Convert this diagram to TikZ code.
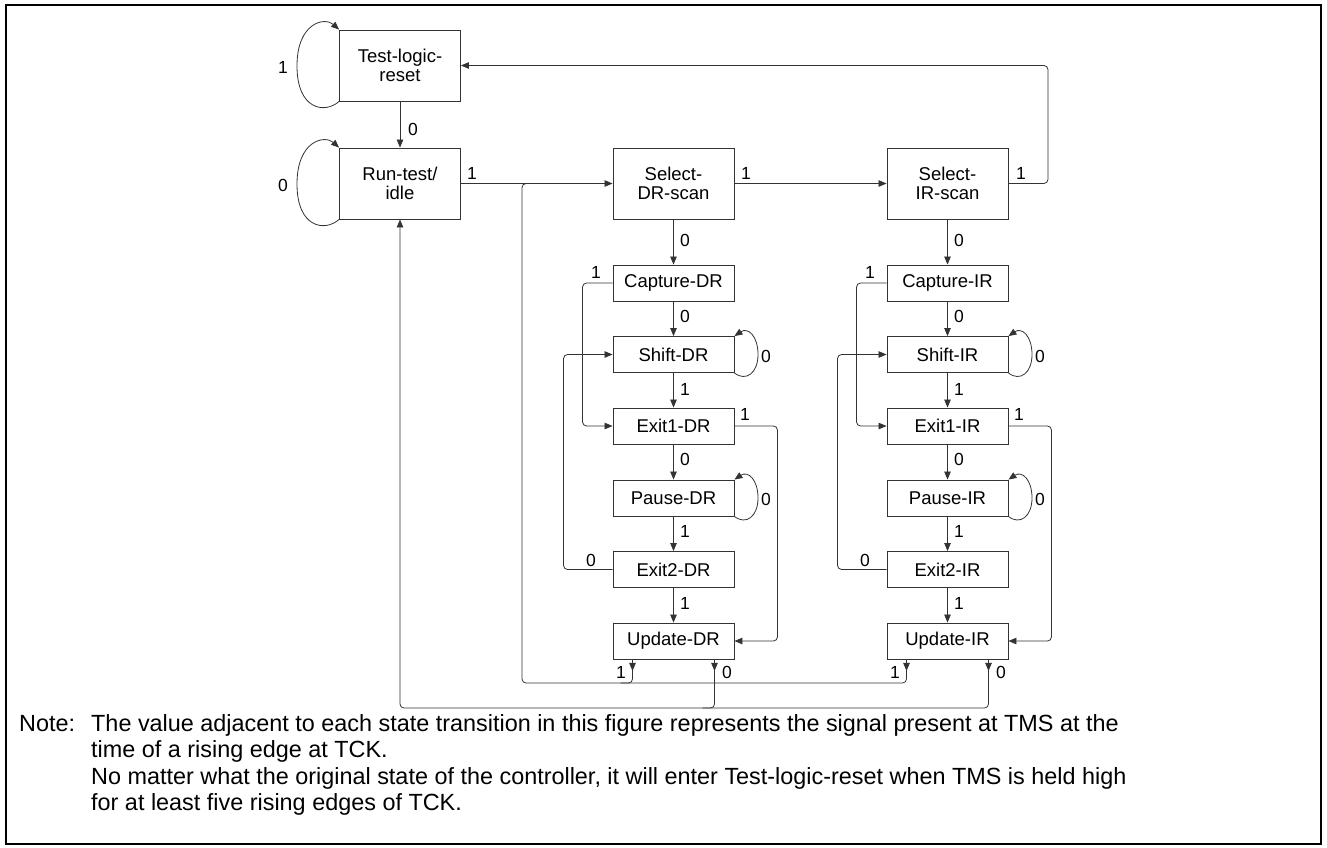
\documentclass[tikz,border=0pt]{standalone}
\usepackage{fontspec}
\setmainfont{Liberation Sans}
\usetikzlibrary{arrows.meta}
\begin{document}
\begin{tikzpicture}[x=1pt,y=-1pt,
  state/.style={draw=black!80, line width=0.9pt, minimum width=121pt, minimum height=36pt, inner sep=0pt, align=center, font=\fontsize{18.5}{19}\selectfont},
  bigstate/.style={state, minimum height=71pt},
  conn/.style={draw=black!80, line width=0.8pt},
  arr/.style={conn, -{Triangle[length=8pt,width=6.5pt]}},
  lbl/.style={font=\fontsize{17.5}{19}\selectfont, inner sep=0pt},
  notetxt/.style={font=\fontsize{23.4}{26}\selectfont, inner sep=0pt, anchor=base west},
]
\useasboundingbox (0,0) rectangle (1327,847);
\draw[line width=2.3pt] (6,5) rectangle (1321,844);

% states
\node[bigstate] (tlr) at (400,65.5) {Test-logic-\\reset};
\node[bigstate] (rti) at (400,183.5) {Run-test/\\idle};
\node[bigstate] (seldr) at (673.5,183.5) {Select-\\DR-scan};
\node[bigstate] (selir) at (947.5,183.5) {Select-\\IR-scan};

\node[state] (capdr) at (673.5,283) {Capture-DR};
\node[state] (shdr)  at (673.5,354.5) {Shift-DR};
\node[state] (e1dr)  at (673.5,426) {Exit1-DR};
\node[state] (padr)  at (673.5,498) {Pause-DR};
\node[state] (e2dr)  at (673.5,569.5) {Exit2-DR};
\node[state] (updr)  at (673.5,641) {Update-DR};

\node[state] (capir) at (947.5,283) {Capture-IR};
\node[state] (shir)  at (947.5,354.5) {Shift-IR};
\node[state] (e1ir)  at (947.5,426) {Exit1-IR};
\node[state] (pair)  at (947.5,498) {Pause-IR};
\node[state] (e2ir)  at (947.5,569.5) {Exit2-IR};
\node[state] (upir)  at (947.5,641) {Update-IR};

% top part
\draw[arr] (tlr.south) -- (rti.north);
\node[lbl] at (413,129) {0};
\draw[arr] (tlr.south west) .. controls (325,114) and (297,110) .. (297,66) .. controls (297,22) and (325,17) .. (tlr.north west);
\node[lbl] at (283,67) {1};
\draw[arr] (rti.south west) .. controls (325,232) and (297,228) .. (297,184) .. controls (297,140) and (325,135) .. (rti.north west);
\node[lbl] at (283,185) {0};

\draw[arr] (rti.east) -- (seldr.west);
\node[lbl] at (472,173) {1};
\draw[arr] (seldr.east) -- (selir.west);
\node[lbl] at (746,173) {1};
\draw[arr, rounded corners=4] (selir.east) -- ++(39.5,0) |- (tlr.east);
\node[lbl] at (1021,173) {1};

% DR column
\draw[arr] (seldr.south) -- (capdr.north);
\node[lbl] at (685,240) {0};
\draw[arr] (capdr.south) -- (shdr.north);
\node[lbl] at (685,316) {0};
\draw[arr] (shdr.south) -- (e1dr.north);
\node[lbl] at (685,389) {1};
\draw[arr] (e1dr.south) -- (padr.north);
\node[lbl] at (685,459) {0};
\draw[arr] (padr.south) -- (e2dr.north);
\node[lbl] at (685,531) {1};
\draw[arr] (e2dr.south) -- (updr.north);
\node[lbl] at (685,603) {1};

\draw[arr, rounded corners=4] (capdr.west) -- ++(-30,0) |- (e1dr.west);
\node[lbl] at (596,272) {1};
\draw[arr, rounded corners=4] (e2dr.west) -- ++(-49,0) |- (shdr.west);
\node[lbl] at (591,560) {0};
\draw[arr, rounded corners=4] (e1dr.east) -- ++(43,0) |- (updr.east);
\node[lbl] at (745,414) {1};

\draw[arr] (shdr.south east) .. controls (746,382) and (758,373) .. (758,354.5) .. controls (758,336) and (748,327) .. (shdr.north east);
\node[lbl] at (766,356) {0};
\draw[arr] (padr.south east) .. controls (746,525.5) and (758,516.5) .. (758,498) .. controls (758,479.5) and (748,470.5) .. (padr.north east);
\node[lbl] at (766,499) {0};

% IR column
\draw[arr] (selir.south) -- (capir.north);
\node[lbl] at (959,240) {0};
\draw[arr] (capir.south) -- (shir.north);
\node[lbl] at (959,316) {0};
\draw[arr] (shir.south) -- (e1ir.north);
\node[lbl] at (959,389) {1};
\draw[arr] (e1ir.south) -- (pair.north);
\node[lbl] at (959,459) {0};
\draw[arr] (pair.south) -- (e2ir.north);
\node[lbl] at (959,531) {1};
\draw[arr] (e2ir.south) -- (upir.north);
\node[lbl] at (959,603) {1};

\draw[arr, rounded corners=4] (capir.west) -- ++(-30,0) |- (e1ir.west);
\node[lbl] at (870,272) {1};
\draw[arr, rounded corners=4] (e2ir.west) -- ++(-49,0) |- (shir.west);
\node[lbl] at (865,560) {0};
\draw[arr, rounded corners=4] (e1ir.east) -- ++(43,0) |- (upir.east);
\node[lbl] at (1019,414) {1};

\draw[arr] (shir.south east) .. controls (1020,382) and (1032,373) .. (1032,354.5) .. controls (1032,336) and (1022,327) .. (shir.north east);
\node[lbl] at (1040,356) {0};
\draw[arr] (pair.south east) .. controls (1020,525.5) and (1032,516.5) .. (1032,498) .. controls (1032,479.5) and (1022,470.5) .. (pair.north east);
\node[lbl] at (1040,499) {0};

% bottom buses
\coordinate (b1) at (522,683);
\coordinate (j1) at (522,183.5);
\coordinate (b0) at (400,708);

\draw[conn, rounded corners=4] ([xshift=-41]upir.south) -- ([xshift=-41]upir.south |- b1) -- (b1) -- (j1) -- ++(12,0);
\draw[conn, rounded corners=4] ([xshift=-41]updr.south) -- ([xshift=-41]updr.south |- b1) -- ++(-12,0);
\draw[arr, rounded corners=4] ([xshift=41]upir.south) -- ([xshift=41]upir.south |- b0) -- (b0) -- (rti.south);
\draw[conn, rounded corners=4] ([xshift=41]updr.south) -- ([xshift=41]updr.south |- b0) -- ++(-12,0);

\draw[arr] ([xshift=-41]updr.south) -- ++(0,11.5);
\draw[arr] ([xshift=41]updr.south) -- ++(0,11.5);
\draw[arr] ([xshift=-41]upir.south) -- ++(0,11.5);
\draw[arr] ([xshift=41]upir.south) -- ++(0,11.5);
\node[lbl] at (621,672) {1};
\node[lbl] at (727,672) {0};
\node[lbl] at (895,672) {1};
\node[lbl] at (1001,672) {0};

% note
\node[notetxt] (nl) at (19,731) {Note:};
\node[notetxt] (n1) at (91,731) {The value adjacent to each state transition in this figure represents the signal present at TMS at the};
\node[notetxt] (n2) at (91,757.5) {time of a rising edge at TCK.};
\node[notetxt] (n3) at (91,784) {No matter what the original state of the controller, it will enter Test-logic-reset when TMS is held high};
\node[notetxt] (n4) at (91,810) {for at least five rising edges of TCK.};
\end{tikzpicture}
\end{document}
